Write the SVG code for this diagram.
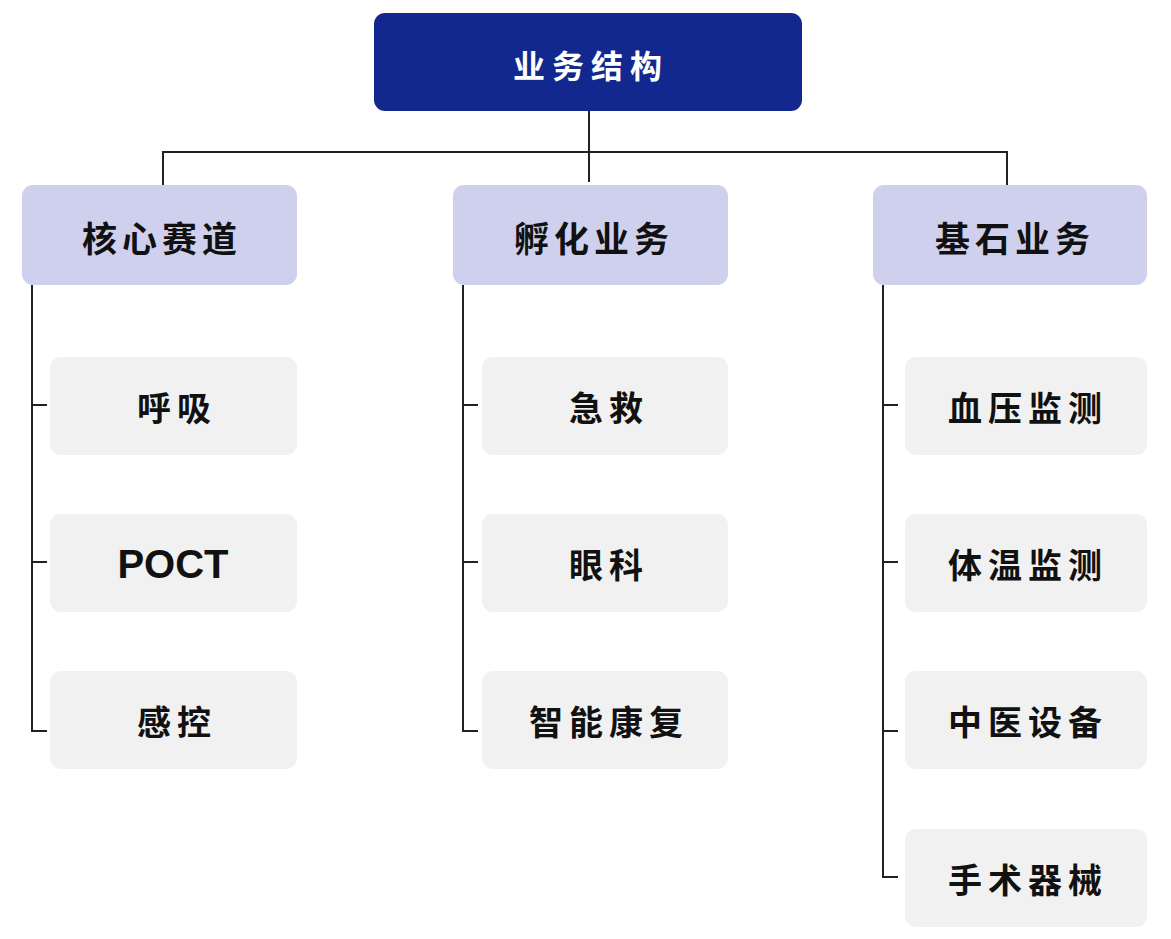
<svg xmlns="http://www.w3.org/2000/svg" width="1171" height="939" viewBox="0 0 1171 939">
<style>
.root{fill:#13288f}
.l1{fill:#cfd0ee}
.leaf{fill:#f1f1f1}
.t{font-family:"Noto Sans CJK SC","Liberation Serif",sans-serif;font-weight:600;text-anchor:middle;dominant-baseline:central;fill:#111}
.tr{font-size:32px;letter-spacing:7px;fill:#fff;font-weight:700}
.t1{font-size:35px;letter-spacing:5px}
.t2{font-size:34px;letter-spacing:6px}
.poct{font-family:"Liberation Sans",Arial,sans-serif;font-weight:700;font-size:40px;text-anchor:middle;dominant-baseline:central;fill:#111}
.ln{fill:none;stroke:#222;stroke-width:2}
</style>
<rect width="1171" height="939" fill="#fff"/>
<g id="connectors">
<path class="ln" d="M589,111 V182 M163,185 V152 H1007 V185"/>
<path class="ln" d="M32,285 V731 H47 M32,405 H47 M32,562 H47"/>
<path class="ln" d="M463,285 V731 H478 M463,405 H478 M463,562 H478"/>
<path class="ln" d="M883,285 V877 H898 M883,405 H898 M883,562 H898 M883,731 H898"/>
</g>
<g id="root"><rect class="root" x="374" y="13" width="428" height="98" rx="11"/><text class="t tr" x="591" y="64">业务结构</text></g>
<g id="n-core"><rect class="l1" x="22" y="185" width="275" height="100" rx="11"/><text class="t t1" x="162" y="236">核心赛道</text></g>
<g id="n-incub"><rect class="l1" x="453" y="185" width="275" height="100" rx="11"/><text class="t t1" x="594" y="236">孵化业务</text></g>
<g id="n-base"><rect class="l1" x="873" y="185" width="274" height="100" rx="11"/><text class="t t1" x="1015" y="236">基石业务</text></g>
<g id="n-huxi"><rect class="leaf" x="50" y="357" width="247" height="98" rx="11"/><text class="t t2" x="177" y="406">呼吸</text></g>
<g id="n-poct"><rect class="leaf" x="50" y="514" width="247" height="98" rx="11"/><text class="poct" x="173" y="564">POCT</text></g>
<g id="n-gankong"><rect class="leaf" x="50" y="671" width="247" height="98" rx="11"/><text class="t t2" x="177" y="720">感控</text></g>
<g id="n-jijiu"><rect class="leaf" x="482" y="357" width="246" height="98" rx="11"/><text class="t t2" x="609" y="406">急救</text></g>
<g id="n-yanke"><rect class="leaf" x="482" y="514" width="246" height="98" rx="11"/><text class="t t2" x="609" y="563">眼科</text></g>
<g id="n-kangfu"><rect class="leaf" x="482" y="671" width="246" height="98" rx="11"/><text class="t t2" x="609" y="720">智能康复</text></g>
<g id="n-xueya"><rect class="leaf" x="905" y="357" width="242" height="98" rx="11"/><text class="t t2" x="1028" y="406">血压监测</text></g>
<g id="n-tiwen"><rect class="leaf" x="905" y="514" width="242" height="98" rx="11"/><text class="t t2" x="1028" y="563">体温监测</text></g>
<g id="n-zhongyi"><rect class="leaf" x="905" y="671" width="242" height="98" rx="11"/><text class="t t2" x="1028" y="720">中医设备</text></g>
<g id="n-shoushu"><rect class="leaf" x="905" y="829" width="242" height="98" rx="11"/><text class="t t2" x="1028" y="878">手术器械</text></g>
</svg>
